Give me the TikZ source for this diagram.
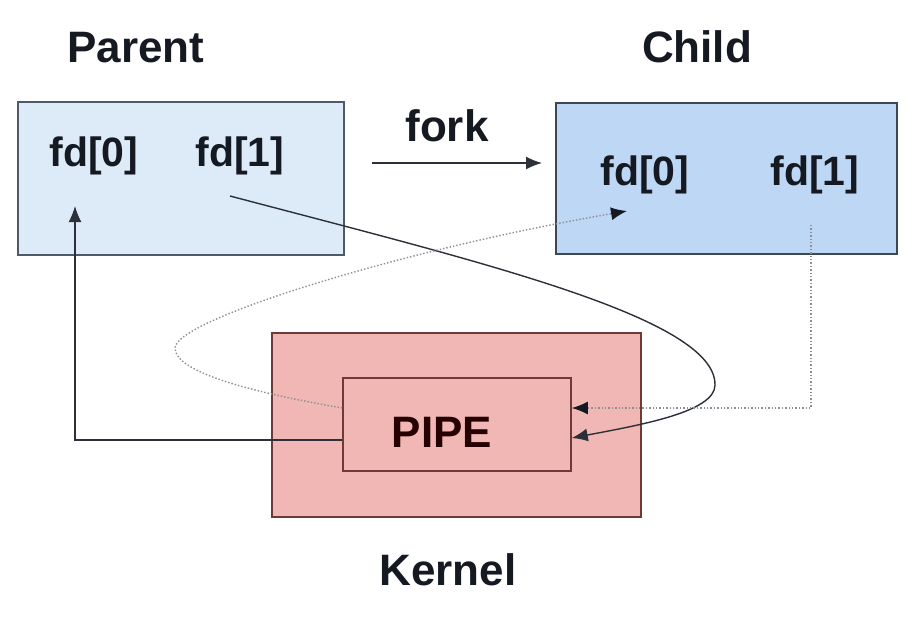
\documentclass[tikz,border=0pt]{standalone}
\usepackage{fontspec}
\setmainfont{Liberation Sans}
\usetikzlibrary{arrows.meta}
\definecolor{pfill}{HTML}{DDEBF9}
\definecolor{cfill}{HTML}{BDD7F4}
\definecolor{kfill}{HTML}{F0B7B4}
\definecolor{bborder}{HTML}{4E5A68}
\definecolor{kborder}{HTML}{6E3A37}
\definecolor{ink}{HTML}{151922}
\definecolor{dotc}{HTML}{8A8E96}
\tikzset{
  box/.style={draw, line width=1.5pt, inner sep=0pt},
  title/.style={font=\bfseries\fontsize{44}{48}\selectfont, text=ink, anchor=base},
  fdlabel/.style={font=\bfseries\fontsize{41}{44}\selectfont, text=ink, anchor=base},
  conn/.style={line width=1.4pt, draw=ink!90, -{Latex[length=16pt,width=13pt]}},
  dotconn/.style={line width=1.4pt, draw=dotc, dotted, -{Latex[length=16pt,width=13pt,color=ink]}},
}
\begin{document}
\begin{tikzpicture}[x=1pt,y=-1pt]
\useasboundingbox[fill=white] (0,0) rectangle (910,618);
% boxes
\node[box, draw=bborder, fill=pfill, minimum width=326pt, minimum height=153pt] (parent) at (181,178.5) {};
\node[box, draw=bborder!80!black, fill=cfill, minimum width=341pt, minimum height=151pt] (child) at (726.5,178.5) {};
\node[box, draw=kborder, fill=kfill, minimum width=369pt, minimum height=184pt] (kernel) at (456.5,425) {};
\node[box, draw=kborder, fill=kfill, minimum width=228pt, minimum height=93pt] (pipe) at (457,424.5) {};
% titles
\node[title] (tparent) at (136,63) {Parent};
\node[title] (tchild) at (697,63) {Child};
\node[title] (tfork) at (447,141) {fork};
\node[title] (tkernel) at (448,585) {Kernel};
\node[title, text=black!85!red] (tpipe) at (442,447) {PIPE};
% fd labels
\node[fdlabel] (p0) at (94,166) {fd[0]};
\node[fdlabel] (p1) at (240,166) {fd[1]};
\node[fdlabel] (c0) at (645,185) {fd[0]};
\node[fdlabel] (c1) at (815,185) {fd[1]};
% coordinates
\coordinate (forkA) at (372,163);
\coordinate (forkB) at (542,163);
\coordinate (p0head) at (75,206);
\coordinate (p1tail) at (230,196);
\coordinate (turn) at (715,385);
\coordinate (c0head) at (627,211);
\coordinate (c1tail) at (811,225);
\coordinate (loopL) at (175,348);
% connectors
\draw[conn] (forkA) -- (forkB);
\draw[conn] ([yshift=-15.5pt]pipe.west) -| (p0head);
\draw[conn] (p1tail) .. controls (480,262) and (716,318) .. (turn)
  .. controls (715,412) and (640,425) .. ([yshift=-13.5pt]pipe.east);
\draw[dotconn] (c1tail) |- ([yshift=16.5pt]pipe.east);
\draw[dotconn] ([yshift=16.5pt]pipe.west) .. controls (250,392) and (175,372) .. (loopL)
  .. controls (175,320) and (400,250) .. (c0head);
\end{tikzpicture}
\end{document}
